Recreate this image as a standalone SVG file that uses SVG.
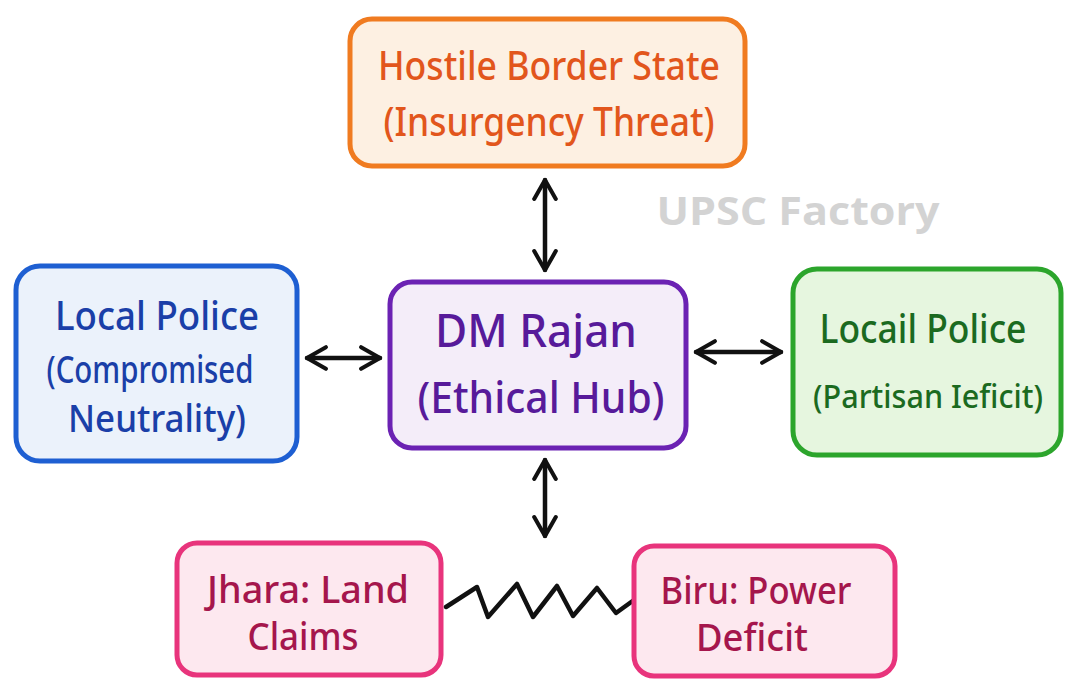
<svg xmlns="http://www.w3.org/2000/svg" width="1080" height="695" viewBox="0 0 1080 695">
<style>
.box{stroke-width:5;stroke-linejoin:round}
.t{font-family:"Noto Sans","DejaVu Sans",sans-serif;font-weight:500;text-anchor:middle}
.orange rect{fill:#fdf0e2;stroke:#f07b20}
.orange text{fill:#e2561c}
.blue rect{fill:#ebf2fb;stroke:#1e5fd2}
.blue text{fill:#1a3fa8}
.purple rect{fill:#f4edf9;stroke:#6b22b3}
.purple text{fill:#571a9a}
.green rect{fill:#e6f6df;stroke:#2ca52c}
.green text{fill:#1b6a1f}
.pink rect{fill:#fde8ef;stroke:#e8347c}
.pink text{fill:#a5164c}
.conn{stroke:#111;stroke-width:4.5;fill:none;stroke-linecap:round;stroke-linejoin:round}
</style>
<defs>
<marker id="ah" viewBox="0 0 20 20" refX="17" refY="10" markerWidth="6" markerHeight="6" orient="auto-start-reverse" markerUnits="strokeWidth">
<path d="M3,2 L17,10 L3,18" fill="none" stroke="#111" stroke-width="3" stroke-linecap="round" stroke-linejoin="round"/>
</marker>
</defs>
<rect width="1080" height="695" fill="#ffffff"/>
<text x="798" y="225" font-family="'Open Sans','Noto Sans',sans-serif" font-weight="700" font-size="40" fill="#d3d3d3" text-anchor="middle" textLength="283" lengthAdjust="spacingAndGlyphs">UPSC Factory</text>
<g id="connectors">
<line class="conn" x1="545" y1="180" x2="545" y2="270" marker-start="url(#ah)" marker-end="url(#ah)"/>
<line class="conn" x1="307" y1="358" x2="380" y2="358" marker-start="url(#ah)" marker-end="url(#ah)"/>
<line class="conn" x1="696" y1="352" x2="781" y2="352" marker-start="url(#ah)" marker-end="url(#ah)"/>
<line class="conn" x1="545" y1="460" x2="545" y2="536" marker-start="url(#ah)" marker-end="url(#ah)"/>
<polyline class="conn" points="446,607 477,587 488,617 517,584 533,617 557,586 573,616 597,588 616,613 634,600"/>
</g>
<g id="hostile" class="orange">
<rect class="box" x="350" y="19" width="395" height="147" rx="22"/>
<text class="t" x="549" y="80" font-size="40" textLength="342" lengthAdjust="spacingAndGlyphs">Hostile Border State</text>
<text class="t" x="549" y="136" font-size="40" textLength="331" lengthAdjust="spacingAndGlyphs">(Insurgency Threat)</text>
</g>
<g id="local-police-left" class="blue">
<rect class="box" x="16" y="266" width="281" height="195" rx="24"/>
<text class="t" x="157" y="330" font-size="40" textLength="204" lengthAdjust="spacingAndGlyphs">Local Police</text>
<text class="t" x="150" y="383" font-size="38" textLength="207" lengthAdjust="spacingAndGlyphs">(Compromised</text>
<text class="t" x="157" y="432" font-size="38" textLength="178" lengthAdjust="spacingAndGlyphs">Neutrality)</text>
</g>
<g id="dm-rajan" class="purple">
<rect class="box" x="390" y="282" width="296" height="166" rx="22"/>
<text class="t" x="536" y="347" font-size="46" textLength="202" lengthAdjust="spacingAndGlyphs">DM Rajan</text>
<text class="t" x="541" y="413" font-size="44" textLength="247" lengthAdjust="spacingAndGlyphs">(Ethical Hub)</text>
</g>
<g id="local-police-right" class="green">
<rect class="box" x="793" y="269" width="268" height="186" rx="24"/>
<text class="t" x="923" y="343" font-size="40" textLength="207" lengthAdjust="spacingAndGlyphs">Locail Police</text>
<text class="t" x="928" y="408" font-size="32" textLength="230" lengthAdjust="spacingAndGlyphs">(Partisan Ieficit)</text>
</g>
<g id="jhara" class="pink">
<rect class="box" x="177" y="543" width="264" height="132" rx="20"/>
<text class="t" x="308" y="603" font-size="38" textLength="202" lengthAdjust="spacingAndGlyphs">Jhara: Land</text>
<text class="t" x="303" y="650" font-size="38" textLength="111" lengthAdjust="spacingAndGlyphs">Claims</text>
</g>
<g id="biru" class="pink">
<rect class="box" x="634" y="546" width="261" height="130" rx="20"/>
<text class="t" x="756" y="604" font-size="38" textLength="191" lengthAdjust="spacingAndGlyphs">Biru: Power</text>
<text class="t" x="752" y="651" font-size="38" textLength="112" lengthAdjust="spacingAndGlyphs">Deficit</text>
</g>
</svg>
